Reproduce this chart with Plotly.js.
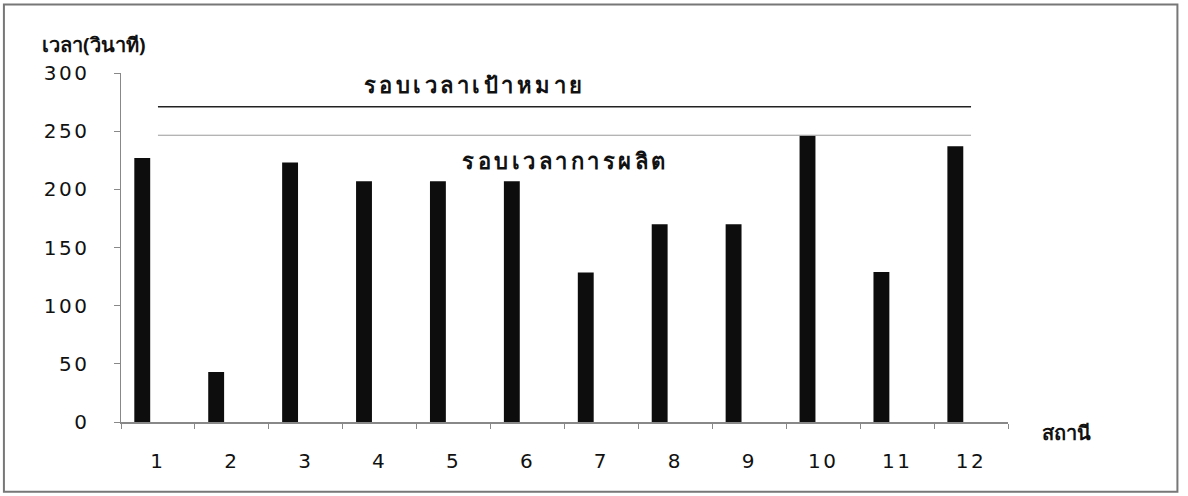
<!DOCTYPE html>
<html>
<head>
<meta charset="utf-8">
<script src="https://cdn.plot.ly/plotly-3.0.1.min.js"></script>
<style>
html,body{margin:0;padding:0;background:#fff;}
#chart{width:1188px;height:496px;}
#chart .xtick text, #chart .ytick text{letter-spacing:2.5px;}
</style>
</head>
<body>
<div id="chart"></div>
<script>
const stations = ["1","2","3","4","5","6","7","8","9","10","11","12"];
const cycleTimes = [227, 43, 223, 207, 207, 207, 128.5, 170, 170, 246, 129, 237];
const targetCycle = 271;
const productionCycle = 246.5;
const lineEnds = ["1", "12"];
const yTicks = [0, 50, 100, 150, 200, 250, 300];
const yTitle = "เวลา(วินาที)";
const xTitle = "สถานี";
const targetLabel = "รอบเวลาเป้าหมาย";
const productionLabel = "รอบเวลาการผลิต";

const tickFont = {family: "DejaVu Sans, Verdana, sans-serif", size: 20, color: "#111"};
const thaiFont = {family: "Noto Sans, Tahoma, DejaVu Sans, sans-serif", size: 20, color: "#111", weight: "bold"};
const thaiBig = {family: "Noto Sans, Tahoma, DejaVu Sans, sans-serif", size: 22, color: "#111", weight: "bold"};

const traces = [
  {
    type: "bar", x: stations, y: cycleTimes,
    width: 0.215, offset: -0.32,
    marker: {color: "#0d0d0d"},
    hoverinfo: "x+y", showlegend: false
  },
  {
    type: "scatter", mode: "lines", x: lineEnds, y: [targetCycle, targetCycle],
    line: {color: "#222", width: 1.6}, showlegend: false
  },
  {
    type: "scatter", mode: "lines", x: lineEnds, y: [productionCycle, productionCycle],
    line: {color: "#9a9a9a", width: 1}, showlegend: false
  }
];

const layout = {
  width: 1188, height: 496,
  margin: {l: 121, r: 180, t: 73, b: 74},
  paper_bgcolor: "#fff", plot_bgcolor: "#fff",
  xaxis: {
    type: "category", range: [-0.5, 11.5],
    showline: true, linecolor: "#888", linewidth: 1.5,
    ticks: "outside", ticklen: 5, tickcolor: "#888", tickson: "boundaries",
    showgrid: false, zeroline: false,
    tickfont: tickFont, ticklabelstandoff: 20
  },
  yaxis: {
    range: [0, 300], tickvals: yTicks,
    showline: true, linecolor: "#888", linewidth: 1.5,
    ticks: "outside", ticklen: 6, tickcolor: "#888",
    showgrid: false, zeroline: false,
    tickfont: tickFont, ticklabelstandoff: 20
  },
  shapes: [
    {type: "rect", xref: "paper", yref: "paper",
     x0: -0.132, x1: 1.191, y0: -0.200, y1: 1.196,
     line: {color: "#777", width: 2}, fillcolor: "rgba(0,0,0,0)", layer: "below"}
  ],
  annotations: [
    {text: yTitle, xref: "paper", yref: "paper", x: -0.030, y: 1.083,
     showarrow: false, font: thaiFont, xanchor: "center", yanchor: "middle"},
    {text: xTitle, xref: "paper", yref: "paper", x: 1.066, y: -0.03,
     showarrow: false, font: thaiFont, xanchor: "center", yanchor: "middle"},
    {text: targetLabel, xref: "x", yref: "y", x: 4.28, y: 290.6,
     showarrow: false, font: thaiBig, xanchor: "center", yanchor: "middle"},
    {text: productionLabel, xref: "x", yref: "y", x: 5.51, y: 225,
     showarrow: false, font: thaiBig, xanchor: "center", yanchor: "middle"}
  ]
};

Plotly.newPlot("chart", traces, layout, {displayModeBar: false, staticPlot: true}).then(function (gd) {
  gd.querySelectorAll("text.annotation-text").forEach(function (t) {
    if (t.textContent === targetLabel || t.textContent === productionLabel) {
      t.style.letterSpacing = "3.5px";
    }
  });
});
</script>
</body>
</html>
